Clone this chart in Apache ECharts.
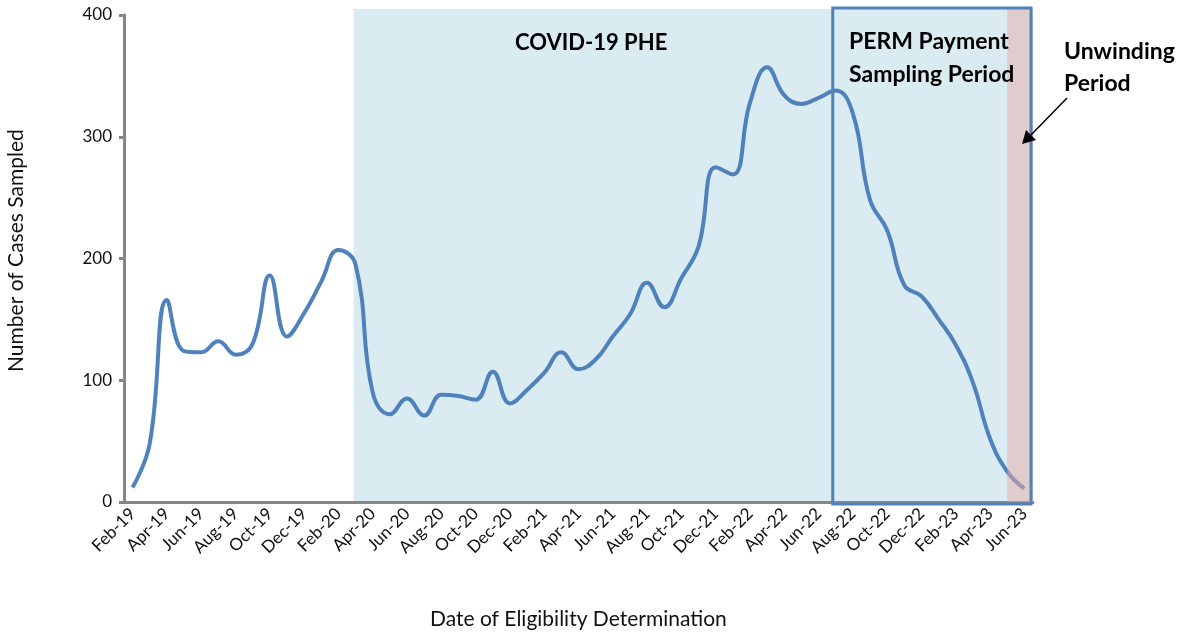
<!DOCTYPE html>
<html>
<head>
<meta charset="utf-8">
<script src="https://cdn.jsdelivr.net/npm/echarts@6/dist/echarts.min.js"></script>
<style>
  html, body { margin: 0; padding: 0; background: #fff; }
  #chart { width: 1195px; height: 637px; }
</style>
</head>
<body>
<div id="chart"></div>
<script>
// months Feb-19 .. Jun-23
var months = [
  'Feb-19','Mar-19','Apr-19','May-19','Jun-19','Jul-19','Aug-19','Sep-19','Oct-19','Nov-19','Dec-19',
  'Jan-20','Feb-20','Mar-20','Apr-20','May-20','Jun-20','Jul-20','Aug-20','Sep-20','Oct-20','Nov-20','Dec-20',
  'Jan-21','Feb-21','Mar-21','Apr-21','May-21','Jun-21','Jul-21','Aug-21','Sep-21','Oct-21','Nov-21','Dec-21',
  'Jan-22','Feb-22','Mar-22','Apr-22','May-22','Jun-22','Jul-22','Aug-22','Sep-22','Oct-22','Nov-22','Dec-22',
  'Jan-23','Feb-23','Mar-23','Apr-23','May-23','Jun-23'
];
var casesSampled = [
  12, 48, 166, 124, 123, 132, 121, 130, 186, 136, 155,
  181, 207, 195, 90, 72, 85, 71, 88, 87, 84, 107, 81,
  92, 106, 123, 109, 117, 136, 154, 180, 160, 184, 210, 275,
  269, 328, 357, 334, 327, 332, 338, 319, 248, 223, 178, 169,
  150, 129, 98, 52, 25, 11
];
var yTicks = [0, 100, 200, 300, 400];

// periods (category names)
var phePeriod = ['Mar-20', 'Jun-23'];
var permPeriod = ['Jul-22', 'Jun-23'];
var unwindPeriod = ['May-23', 'Jun-23'];

var gray = '#868686';
var blue = '#4F81BD';
var font = 'Lato, "Noto Sans", sans-serif';

var myChart = echarts.init(document.getElementById('chart'));

var option = {
  animation: false,
  textStyle: { fontFamily: font },
  grid: { left: 124, right: 162, top: 15, bottom: 135 },
  xAxis: {
    type: 'category',
    data: months,
    boundaryGap: true,
    axisLine: { lineStyle: { color: gray, width: 3 } },
    axisTick: { interval: 4, length: 6, lineStyle: { color: gray, width: 3 } },
    axisLabel: { interval: 1, rotate: 45, fontSize: 17, color: '#111', margin: 9 }
  },
  yAxis: {
    type: 'value',
    min: yTicks[0],
    max: yTicks[yTicks.length - 1],
    interval: 100,
    axisLine: { show: true, lineStyle: { color: gray, width: 3 } },
    axisTick: { show: true, length: 5, lineStyle: { color: gray, width: 3 } },
    axisLabel: { fontSize: 17, color: '#111', margin: 12 },
    splitLine: { show: false }
  },
  series: [{
    type: 'line',
    data: casesSampled,
    smooth: 0.45,
    symbol: 'none',
    z: 5,
    lineStyle: { color: blue, width: 4 }
  }]
};
myChart.setOption(option);

// shaded periods, placed with the chart's own scales
function px(cat, val) {
  return myChart.convertToPixel({ gridIndex: 0 }, [cat, val]);
}
var band = px(months[1], 0)[0] - px(months[0], 0)[0];
var axisEnd = px(months[months.length - 1], 0)[0] + band / 2;
var yBase = px(months[0], 0)[1];
var yTop = px(months[0], 405)[1];

var pheX = px(phePeriod[0], 0)[0] - 2;
var permX = px(permPeriod[0], 0)[0] - 3;
var unwX = px(unwindPeriod[0], 0)[0];

myChart.setOption({
  graphic: [
    {
      type: 'rect', z: -10, silent: true,
      shape: { x: pheX, y: yTop, width: axisEnd - pheX, height: yBase - yTop },
      style: { fill: '#DAECF2' }
    },
    {
      type: 'rect', z: 20, silent: true,
      shape: { x: unwX, y: yTop, width: axisEnd - unwX, height: yBase - yTop },
      style: { fill: 'rgba(230,169,167,0.5)' }
    },
    {
      type: 'rect', z: 30, silent: true,
      shape: { x: permX, y: yTop - 1, width: axisEnd - 2 - permX, height: yBase - yTop + 3 },
      style: { fill: 'none', stroke: blue, lineWidth: 3 }
    },
    {
      type: 'text', z: 40, left: 515, top: 32,
      style: { text: 'COVID-19 PHE', font: 'bold 22px ' + font, fill: '#000' }
    },
    {
      type: 'text', z: 40, left: 849, top: 25,
      style: { text: 'PERM Payment\nSampling Period', font: 'bold 23px ' + font, lineHeight: 33, fill: '#000' }
    },
    {
      type: 'text', z: 40, left: 1064, top: 36,
      style: { text: 'Unwinding\nPeriod', font: 'bold 23px ' + font, lineHeight: 32, fill: '#000', align: 'center' }
    },
    {
      type: 'line', z: 40,
      shape: { x1: 1067, y1: 98, x2: 1030, y2: 136 },
      style: { stroke: '#000', lineWidth: 1.5 }
    },
    {
      type: 'polygon', z: 40,
      shape: { points: [[1022, 144], [1026, 130], [1036, 140]] },
      style: { fill: '#000' }
    },
    {
      type: 'text', z: 40, left: 430, top: 609,
      style: { text: 'Date of Eligibility Determination', font: '21px ' + font, fill: '#111' }
    },
    {
      type: 'text', z: 40, x: 6, y: 372, rotation: Math.PI / 2,
      style: { text: 'Number of Cases Sampled', font: '21px ' + font, fill: '#111' }
    }
  ]
});
</script>
</body>
</html>
